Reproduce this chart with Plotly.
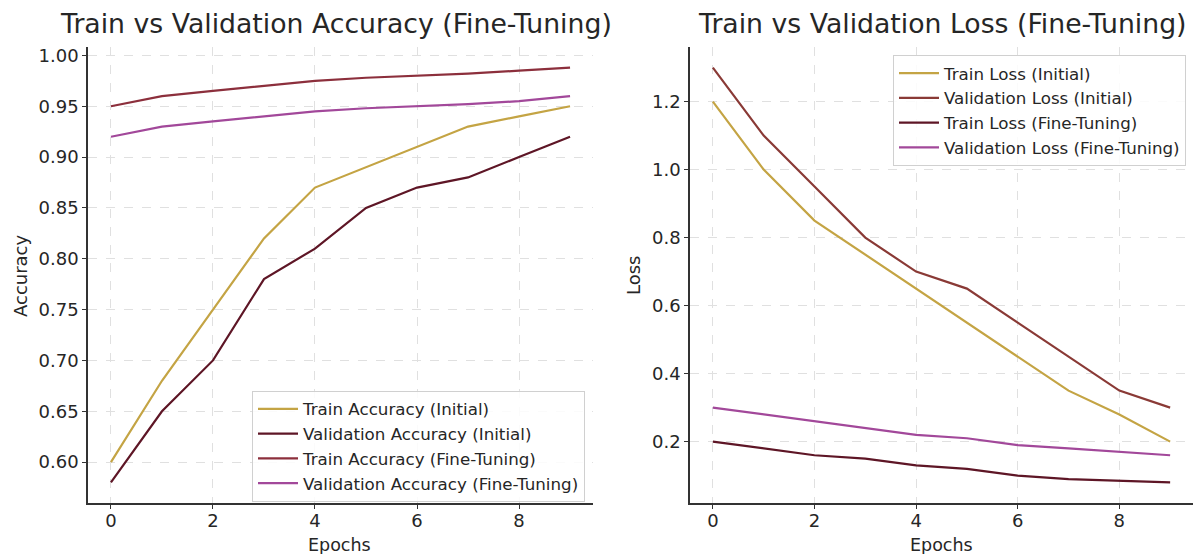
import plotly.graph_objects as go

epochs = list(range(10))

train_acc_initial = [0.60, 0.68, 0.75, 0.82, 0.87, 0.89, 0.91, 0.93, 0.94, 0.95]
val_acc_initial = [0.58, 0.65, 0.70, 0.78, 0.81, 0.85, 0.87, 0.88, 0.90, 0.92]
train_acc_ft = [0.95, 0.96, 0.965, 0.97, 0.975, 0.978, 0.98, 0.982, 0.985, 0.988]
val_acc_ft = [0.92, 0.93, 0.935, 0.94, 0.945, 0.948, 0.95, 0.952, 0.955, 0.96]

train_loss_initial = [1.2, 1.0, 0.85, 0.75, 0.65, 0.55, 0.45, 0.35, 0.28, 0.20]
val_loss_initial = [1.3, 1.1, 0.95, 0.80, 0.70, 0.65, 0.55, 0.45, 0.35, 0.30]
train_loss_ft = [0.20, 0.18, 0.16, 0.15, 0.13, 0.12, 0.10, 0.09, 0.085, 0.08]
val_loss_ft = [0.30, 0.28, 0.26, 0.24, 0.22, 0.21, 0.19, 0.18, 0.17, 0.16]

acc_names = ["Train Accuracy (Initial)", "Validation Accuracy (Initial)",
             "Train Accuracy (Fine-Tuning)", "Validation Accuracy (Fine-Tuning)"]
loss_names = ["Train Loss (Initial)", "Validation Loss (Initial)",
              "Train Loss (Fine-Tuning)", "Validation Loss (Fine-Tuning)"]

acc_colors = ["#c4a444", "#5e1626", "#8c2f3c", "#a2489a"]
loss_colors = ["#c4a444", "#8a3a36", "#5e1626", "#a2489a"]

W, H = 1198, 554
FONT = "DejaVu Sans"
TXT = "#262626"

fig = go.Figure()

acc_series = [train_acc_initial, val_acc_initial, train_acc_ft, val_acc_ft]
for name, ys, c in zip(acc_names, acc_series, acc_colors):
    fig.add_trace(go.Scatter(x=epochs, y=ys, mode="lines", name=name,
                             line=dict(color=c, width=2.2),
                             xaxis="x", yaxis="y", legend="legend"))

loss_series = [train_loss_initial, val_loss_initial, train_loss_ft, val_loss_ft]
for name, ys, c in zip(loss_names, loss_series, loss_colors):
    fig.add_trace(go.Scatter(x=epochs, y=ys, mode="lines", name=name,
                             line=dict(color=c, width=2.2),
                             xaxis="x2", yaxis="y2", legend="legend2"))

ydom = [1 - 503 / H, 1 - 45 / H]
axis_common = dict(
    showline=True, linecolor="#333333", linewidth=1.6, mirror=False,
    ticks="outside", ticklen=4, tickwidth=1.2, tickcolor="#333333",
    showgrid=True, gridcolor="#e0e0e0", gridwidth=1, griddash="dash",
    zeroline=False, tickfont=dict(family=FONT, size=18, color=TXT),
)

legend_common = dict(
    xanchor="left", yanchor="top",
    bgcolor="rgba(255,255,255,0.85)", bordercolor="#d0d0d0",
    borderwidth=1, font=dict(family=FONT, size=16.7, color=TXT),
    tracegroupgap=0, itemwidth=40,
)

fig.update_layout(
    width=W, height=H,
    margin=dict(l=0, r=0, t=0, b=0),
    paper_bgcolor="white", plot_bgcolor="white",
    font=dict(family=FONT, color=TXT),
    xaxis=dict(domain=[88 / W, 593 / W], range=[-0.45, 9.45],
               tickvals=[0, 2, 4, 6, 8], anchor="y", ticklabelstandoff=-4,
               **axis_common),
    yaxis=dict(domain=ydom, range=[0.5596, 1.0084],
               tickvals=[0.60, 0.65, 0.70, 0.75, 0.80, 0.85, 0.90, 0.95, 1.00],
               tickformat=".2f", anchor="x", **axis_common),
    xaxis2=dict(domain=[690 / W, 1193 / W], range=[-0.45, 9.45],
                tickvals=[0, 2, 4, 6, 8], anchor="y2", ticklabelstandoff=-4,
                **axis_common),
    yaxis2=dict(domain=ydom, range=[0.019, 1.361],
                tickvals=[0.2, 0.4, 0.6, 0.8, 1.0, 1.2],
                tickformat=".1f", anchor="x2", **axis_common),
    legend=dict(x=252 / W, y=1 - 390 / H, **legend_common),
    legend2=dict(x=893 / W, y=1 - 53 / H, **legend_common),
    showlegend=True,
)

annos = [
    dict(text="Train vs Validation Accuracy (Fine-Tuning)", x=336 / W, y=1 - 22 / H,
         font=dict(size=26.7, family=FONT, color=TXT)),
    dict(text="Train vs Validation Loss (Fine-Tuning)", x=942 / W, y=1 - 22 / H,
         font=dict(size=26.7, family=FONT, color=TXT)),
    dict(text="Epochs", x=340 / W, y=1 - 545 / H,
         font=dict(size=17.5, family=FONT, color=TXT)),
    dict(text="Epochs", x=941 / W, y=1 - 545 / H,
         font=dict(size=17.5, family=FONT, color=TXT)),
    dict(text="Accuracy", x=20 / W, y=1 - 275 / H, textangle=-90,
         font=dict(size=18, family=FONT, color=TXT)),
    dict(text="Loss", x=633 / W, y=1 - 275 / H, textangle=-90,
         font=dict(size=18, family=FONT, color=TXT)),
]
for a in annos:
    fig.add_annotation(xref="paper", yref="paper", showarrow=False,
                       xanchor="center", yanchor="middle", **a)

fig.write_html("out.html")
